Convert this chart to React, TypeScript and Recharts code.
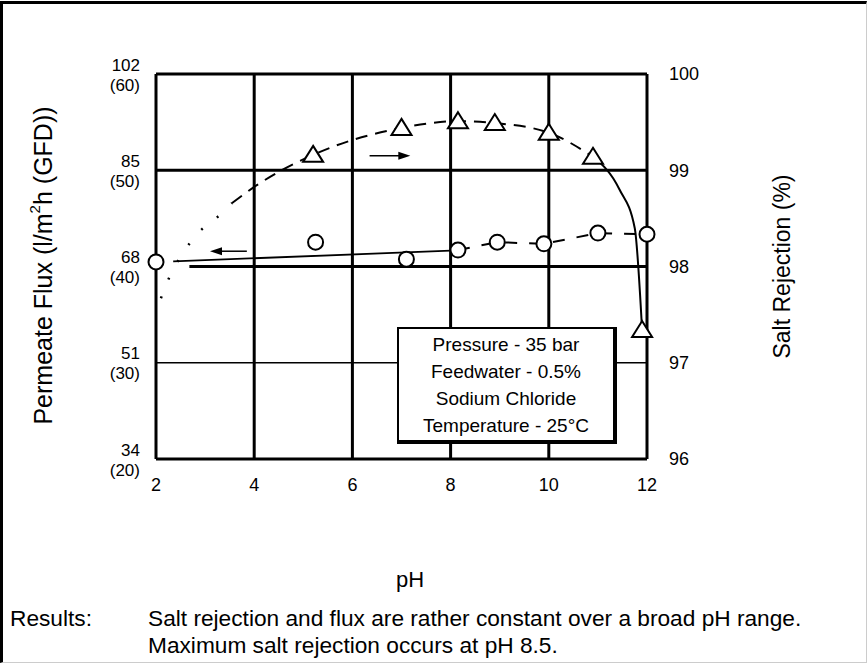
import React from "react";
import { ComposedChart, Line, XAxis, YAxis, ReferenceLine, Label } from "recharts";

const phTicks = [2, 4, 6, 8, 10, 12];
const fluxTicks = [34, 51, 68, 85, 102];
const gfdTicks = [20, 30, 40, 50, 60];
const rejectionTicks = [96, 97, 98, 99, 100];

// measured points (circles = flux, triangles = salt rejection)
const fluxPoints = [
  { ph: 2, v: 68.8 },
  { ph: 5.25, v: 72.3 },
  { ph: 7.1, v: 69.3 },
  { ph: 8.15, v: 70.9 },
  { ph: 8.95, v: 72.3 },
  { ph: 9.9, v: 72.0 },
  { ph: 11.0, v: 73.9 },
  { ph: 12, v: 73.7 },
];
const rejectionPoints = [
  { ph: 5.2, v: 99.16 },
  { ph: 7.0, v: 99.44 },
  { ph: 8.15, v: 99.51 },
  { ph: 8.9, v: 99.49 },
  { ph: 10.0, v: 99.39 },
  { ph: 10.9, v: 99.14 },
  { ph: 11.9, v: 97.34 },
];

// hand drawn curves
const fluxFit = [
  { ph: 2.35, v: 68.9 },
  { ph: 8.0, v: 70.8 },
];
const fluxDashed = [
  { ph: 8.15, v: 70.9 },
  { ph: 8.95, v: 72.3 },
  { ph: 9.9, v: 72.0 },
  { ph: 11.0, v: 73.9 },
  { ph: 12, v: 73.7 },
];
const rejectionDotted = [
  { ph: 2.1, v: 97.67 },
  { ph: 2.3, v: 97.92 },
  { ph: 2.55, v: 98.14 },
  { ph: 2.86, v: 98.35 },
  { ph: 3.2, v: 98.49 },
  { ph: 3.55, v: 98.66 },
];
const rejectionDashed = [
  { ph: 3.55, v: 98.66 },
  { ph: 4.07, v: 98.85 },
  { ph: 5.2, v: 99.16 },
  { ph: 7.0, v: 99.44 },
  { ph: 8.15, v: 99.51 },
  { ph: 8.9, v: 99.49 },
  { ph: 10.0, v: 99.39 },
  { ph: 10.9, v: 99.14 },
];
const rejectionDrop = [
  { ph: 10.9, v: 99.14 },
  { ph: 11.44, v: 98.8 },
  { ph: 11.75, v: 98.4 },
  { ph: 11.9, v: 97.34 },
];

// direction arrows (which axis each curve belongs to)
const fluxArrow = [
  { ph: 3.85, v: 70.7 },
  { ph: 3.1, v: 70.7 },
];
const rejectionArrow = [
  { ph: 6.35, v: 99.15 },
  { ph: 7.18, v: 99.15 },
];

const conditions = [
  "Pressure - 35 bar",
  "Feedwater - 0.5%",
  "Sodium Chloride",
  "Temperature - 25°C",
];

const FONT = "'Liberation Sans', Arial, Helvetica, sans-serif";

const CircleDot = (p: any) => (
  <circle key={`c-${p.index}`} cx={p.cx} cy={p.cy} r={7.5} fill="#fff" stroke="#000" strokeWidth={2} />
);

const TriangleDot = (p: any) => (
  <polygon
    key={`t-${p.index}`}
    points={`${p.cx},${p.cy - 9} ${p.cx + 10},${p.cy + 7} ${p.cx - 10},${p.cy + 7}`}
    fill="#fff"
    stroke="#000"
    strokeWidth={2}
  />
);

const Arrow = (p: any) => {
  const { x1, y1, x2, y2 } = p;
  const dir = x2 > x1 ? 1 : -1;
  return (
    <g>
      <line x1={x1} y1={y1} x2={x2 - dir * 8} y2={y2} stroke="#000" strokeWidth={1.5} />
      <polygon points={`${x2},${y2} ${x2 - dir * 12},${y2 - 4} ${x2 - dir * 12},${y2 + 4}`} fill="#000" />
    </g>
  );
};

const FluxTick = ({ x, y, payload }: any) => {
  const gfd = gfdTicks[fluxTicks.indexOf(payload.value)];
  return (
    <g fontFamily={FONT} fontSize={17} fill="#000">
      <text x={x - 8} y={y - 9} textAnchor="end" dominantBaseline="central">
        {payload.value}
      </text>
      <text x={x - 8} y={y + 11} textAnchor="end" dominantBaseline="central">
        ({gfd})
      </text>
    </g>
  );
};

const gridWidth = (v: number) => (v === 51 ? 1.5 : 3);

export default function App() {
  return (
    <div style={{ position: "absolute", left: 0, top: 0, width: 867, height: 664, background: "#fff", fontFamily: FONT }}>
      <div
        style={{
          position: "absolute",
          left: 0,
          top: 1,
          width: 867,
          height: 662,
          boxSizing: "border-box",
          borderLeft: "3px solid #000",
          borderTop: "3px solid #000",
          borderRight: "1px solid #ccc",
          borderBottom: "1px solid #ccc",
        }}
      />
      <div style={{ position: "absolute", left: 0, top: 0 }}>
        <ComposedChart width={867} height={664} margin={{ top: 74, right: 0, bottom: 175, left: 0 }}>
          <XAxis
            dataKey="ph"
            type="number"
            domain={[2, 12]}
            ticks={phTicks}
            axisLine={false}
            tickLine={false}
            height={30}
            tickMargin={13}
            tick={{ fill: "#000", fontSize: 18, fontFamily: FONT }}
          />
          <YAxis
            yAxisId="flux"
            type="number"
            domain={[34, 102]}
            ticks={fluxTicks}
            axisLine={false}
            tickLine={false}
            width={156}
            tick={<FluxTick />}
          >
            <Label
              content={({ viewBox }: any) => (
                <text
                  x={43}
                  y={viewBox.y + viewBox.height / 2 - 1}
                  transform={`rotate(-90 43 ${viewBox.y + viewBox.height / 2 - 1})`}
                  textAnchor="middle"
                  dominantBaseline="central"
                  fontFamily={FONT}
                  fontSize={25}
                  fill="#000"
                >
                  Permeate Flux (l/m
                  <tspan fontSize={15} dy={-9}>2</tspan>
                  <tspan dy={9}>h (GFD))</tspan>
                </text>
              )}
            />
          </YAxis>
          <YAxis
            yAxisId="rej"
            orientation="right"
            type="number"
            domain={[96, 100]}
            ticks={rejectionTicks}
            axisLine={false}
            tickLine={false}
            width={220}
            tickMargin={16}
            tick={{ fill: "#000", fontSize: 18, fontFamily: FONT, textAnchor: "start" }}
          >
            <Label
              content={({ viewBox }: any) => (
                <text
                  x={782}
                  y={viewBox.y + viewBox.height / 2}
                  transform={`rotate(-90 782 ${viewBox.y + viewBox.height / 2})`}
                  textAnchor="middle"
                  dominantBaseline="central"
                  fontFamily={FONT}
                  fontSize={23}
                  fill="#000"
                >
                  Salt Rejection (%)
                </text>
              )}
            />
          </YAxis>

          {phTicks.map((t) => (
            <ReferenceLine key={`vx-${t}`} x={t} yAxisId="flux" stroke="#000" strokeWidth={3} />
          ))}
          {fluxTicks
            .filter((t) => t !== 68)
            .map((t) => (
              <ReferenceLine key={`hy-${t}`} y={t} yAxisId="flux" stroke="#000" strokeWidth={gridWidth(t)} />
            ))}
          <ReferenceLine
            yAxisId="flux"
            segment={[
              { x: 2.68, y: 68 },
              { x: 12, y: 68 },
            ]}
            stroke="#000"
            strokeWidth={3}
          />

          <ReferenceLine
            yAxisId="flux"
            segment={[
              { x: fluxArrow[0].ph, y: fluxArrow[0].v },
              { x: fluxArrow[1].ph, y: fluxArrow[1].v },
            ]}
            shape={Arrow}
          />
          <ReferenceLine
            yAxisId="rej"
            segment={[
              { x: rejectionArrow[0].ph, y: rejectionArrow[0].v },
              { x: rejectionArrow[1].ph, y: rejectionArrow[1].v },
            ]}
            shape={Arrow}
          />

          <Line
            yAxisId="flux"
            data={fluxFit}
            dataKey="v"
            type="linear"
            stroke="#000"
            strokeWidth={1.8}
            dot={false}
            activeDot={false}
            isAnimationActive={false}
          />
          <Line
            yAxisId="flux"
            data={fluxDashed}
            dataKey="v"
            type="linear"
            stroke="#000"
            strokeWidth={2}
            strokeDasharray="12 12"
            dot={false}
            activeDot={false}
            isAnimationActive={false}
          />
          <Line
            yAxisId="rej"
            data={rejectionDotted}
            dataKey="v"
            type="monotone"
            stroke="#000"
            strokeWidth={2.5}
            strokeDasharray="2 18"
            dot={false}
            activeDot={false}
            isAnimationActive={false}
          />
          <Line
            yAxisId="rej"
            data={rejectionDashed}
            dataKey="v"
            type="monotone"
            stroke="#000"
            strokeWidth={2}
            strokeDasharray="12 8"
            dot={false}
            activeDot={false}
            isAnimationActive={false}
          />
          <Line
            yAxisId="rej"
            data={rejectionDrop}
            dataKey="v"
            type="monotone"
            stroke="#000"
            strokeWidth={2}
            dot={false}
            activeDot={false}
            isAnimationActive={false}
          />

          <Line
            yAxisId="flux"
            data={fluxPoints}
            dataKey="v"
            stroke="none"
            dot={CircleDot}
            activeDot={false}
            isAnimationActive={false}
          />
          <Line
            yAxisId="rej"
            data={rejectionPoints}
            dataKey="v"
            stroke="none"
            dot={TriangleDot}
            activeDot={false}
            isAnimationActive={false}
          />
        </ComposedChart>
      </div>

      {/* test conditions box */}
      <div
        style={{
          position: "absolute",
          left: 397,
          top: 327,
          width: 220,
          height: 117,
          boxSizing: "border-box",
          border: "2px solid #000",
          borderRight: "4px solid #000",
          borderBottom: "4px solid #000",
          background: "#fff",
          paddingTop: 2,
          textAlign: "center",
          fontSize: 19,
          lineHeight: "27px",
          color: "#000",
        }}
      >
        {conditions.map((c) => (
          <div key={c}>{c}</div>
        ))}
      </div>

      <div style={{ position: "absolute", left: 360, top: 567, width: 100, textAlign: "center", fontSize: 22, lineHeight: "26px" }}>
        pH
      </div>

      <div style={{ position: "absolute", left: 10, top: 605, fontSize: 22.7, lineHeight: "27px" }}>Results:</div>
      <div style={{ position: "absolute", left: 148, top: 605, fontSize: 22.7, lineHeight: "27px", whiteSpace: "nowrap" }}>
        <div>Salt rejection and flux are rather constant over a broad pH range.</div>
        <div>Maximum salt rejection occurs at pH 8.5.</div>
      </div>
    </div>
  );
}
